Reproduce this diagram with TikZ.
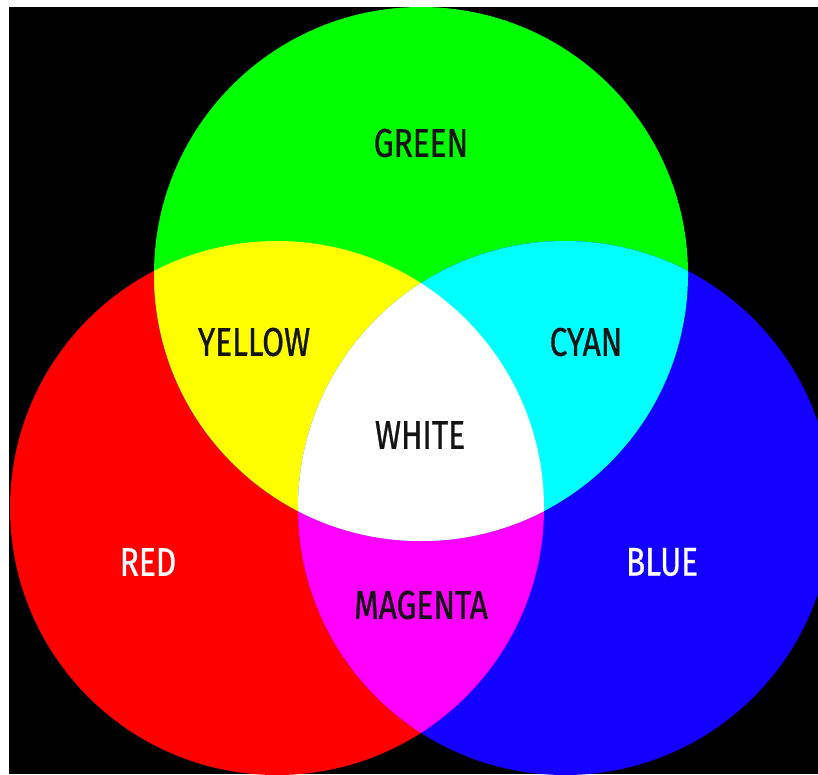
\documentclass[tikz,border=0pt]{standalone}
\usepackage{fontspec}
\usepackage{tikz}
\usetikzlibrary{positioning}
\newfontfamily\lightfont[FakeStretch=0.79, FakeBold=0.8]{Fira Sans}
\definecolor{lightRed}{RGB}{255, 0, 0}
\definecolor{lightGreen}{RGB}{0, 255, 0}
\definecolor{lightBlue}{RGB}{20, 0, 255}
\definecolor{mixYellow}{RGB}{255, 255, 0}
\definecolor{mixCyan}{RGB}{0, 255, 255}
\definecolor{mixMagenta}{RGB}{255, 0, 255}
\definecolor{inkDark}{RGB}{20, 20, 20}

\begin{document}
\begin{tikzpicture}[
    x=1pt, y=-1pt,
    every node/.style={font=\lightfont\fontsize{40}{44}\selectfont, inner sep=0pt},
    labelDark/.style={text=inkDark},
    labelLight/.style={text=white}
]

% --- Frame ------------------------------------------------------------------
\useasboundingbox (0,0) rectangle (818,774);
\fill[white] (0,0) rectangle (818,774);
\fill[black] (9,7) rectangle (818,774);
\clip (9,7) rectangle (818,774);

% --- Centres of the three lights -------------------------------------------
\coordinate (red) at (277,508);
\coordinate (green) at (421,274);
\coordinate (blue) at (565,508);

% --- Primary discs -----------------------------------------------------------
\fill[lightRed] (red) circle[radius=267pt];
\fill[lightGreen] (green) circle[radius=267pt];
\fill[lightBlue] (blue) circle[radius=267pt];

% --- Pairwise mixes ----------------------------------------------------------
\begin{scope}
    \clip (red) circle[radius=267pt];
    \fill[mixYellow] (green) circle[radius=267pt];
    \fill[mixMagenta] (blue) circle[radius=267pt];
\end{scope}
\begin{scope}
    \clip (green) circle[radius=267pt];
    \fill[mixCyan] (blue) circle[radius=267pt];
\end{scope}

% --- All three -----------------------------------------------------------------
\begin{scope}
    \clip (red) circle[radius=267pt];
    \clip (green) circle[radius=267pt];
    \fill[white] (blue) circle[radius=267pt];
\end{scope}

% --- Labels ---------------------------------------------------------------------
\node[labelDark] (greenLabel) at (421,143) {GREEN};
\node[labelDark] (yellowLabel) at (254,342) {YELLOW};
\node[labelDark] (cyanLabel) at (586,342) {CYAN};
\node[labelDark] (whiteLabel) at (420,435) {WHITE};
\node[labelLight] (redLabel) at (148,562) {RED};
\node[labelLight] (blueLabel) at (662,562) {BLUE};
\node[labelDark] (magentaLabel) at (421,605) {MAGENTA};

\end{tikzpicture}
\end{document}
